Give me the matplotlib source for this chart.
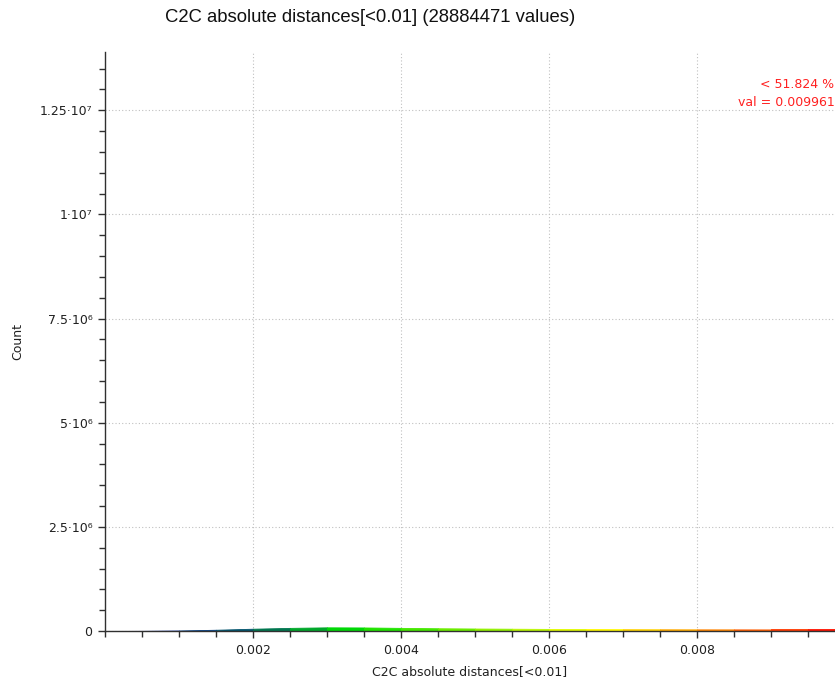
import matplotlib
matplotlib.use("Agg")
import matplotlib.pyplot as plt
import numpy as np
from matplotlib.colors import LinearSegmentedColormap
from matplotlib.ticker import MultipleLocator, FixedLocator

# Data
bin_x = [0.0000, 0.0005, 0.0010, 0.0015, 0.0020, 0.0025, 0.0030, 0.0035, 0.0040,
         0.0045, 0.0050, 0.0055, 0.0060, 0.0065, 0.0070, 0.0075, 0.0080, 0.0085,
         0.0090, 0.0095, 0.0100]
counts = [0, 3000, 12000, 30000, 55000, 75000, 88000, 85000, 75000,
          66000, 60000, 55000, 50000, 47000, 44000, 42000, 40000, 39000,
          38000, 38000, 38000]
y_ticks = [0, 2.5e6, 5e6, 7.5e6, 1e7, 1.25e7]
y_tick_labels = ["0", "2.5·10⁶", "5·10⁶", "7.5·10⁶", "1·10⁷", "1.25·10⁷"]
x_ticks = [0.002, 0.004, 0.006, 0.008]
x_tick_labels = ["0.002", "0.004", "0.006", "0.008"]
title = "C2C absolute distances[<0.01] (28884471 values)"
annot = ["< 51.824 %", "val = 0.009961"]

cmap = LinearSegmentedColormap.from_list(
    "bgyr", [(0.0, "#0000c0"), (0.2, "#006060"), (1/3, "#00e000"),
             (2/3, "#ffff00"), (1.0, "#ff0000")])

fig = plt.figure(figsize=(8.35, 6.82), dpi=100)
ax = fig.add_axes([105/835, 51/682, 1 - 105/835, (631-52)/682])

xs = np.array(bin_x)
ys = np.array(counts)
for i in range(len(xs) - 1):
    c = cmap((xs[i] + xs[i+1]) / 2 / 0.01)
    ax.fill_between(xs[i:i+2], 0, ys[i:i+2], color=c, lw=0.6, edgecolor=c)

ax.set_xlim(0, 0.009865)
ax.set_ylim(0, 1.39e7)

ax.xaxis.set_major_locator(FixedLocator(x_ticks))
ax.set_xticklabels(x_tick_labels)
ax.xaxis.set_minor_locator(MultipleLocator(0.0005))
ax.yaxis.set_major_locator(FixedLocator(y_ticks))
ax.set_yticklabels(y_tick_labels)
ax.yaxis.set_minor_locator(MultipleLocator(5e5))

for s in ["top", "right"]:
    ax.spines[s].set_visible(False)
for s in ["left", "bottom"]:
    ax.spines[s].set_color("#303030")
    ax.spines[s].set_linewidth(1.0)

ax.tick_params(axis="both", which="major", direction="out", length=5, width=1,
               color="#303030", labelsize=9, labelcolor="#202020", pad=4)
ax.tick_params(axis="both", which="minor", direction="out", length=4, width=1,
               color="#303030")

ax.grid(True, which="major", linestyle=(0, (1, 2)), color="#c0c0c0", linewidth=0.8)
ax.set_axisbelow(True)

ax.set_xlabel("C2C absolute distances[<0.01]", fontsize=9, color="#202020", labelpad=6)
ax.set_ylabel("Count", fontsize=9, color="#202020")
ax.yaxis.set_label_coords(-(105 - 24) / 730, 0.5)

fig.text(165/835, 1 - 18/682, title, fontsize=13.3, family="Liberation Sans",
         ha="left", va="center", color="#101010")

ax.text(0.999, 1 - (84-52)/(631-52), annot[0], transform=ax.transAxes, ha="right",
        va="center", color="#ff2020", fontsize=9)
ax.text(0.999, 1 - (102-52)/(631-52), annot[1], transform=ax.transAxes, ha="right",
        va="center", color="#ff2020", fontsize=9)

fig.savefig("out.png", dpi=100)
